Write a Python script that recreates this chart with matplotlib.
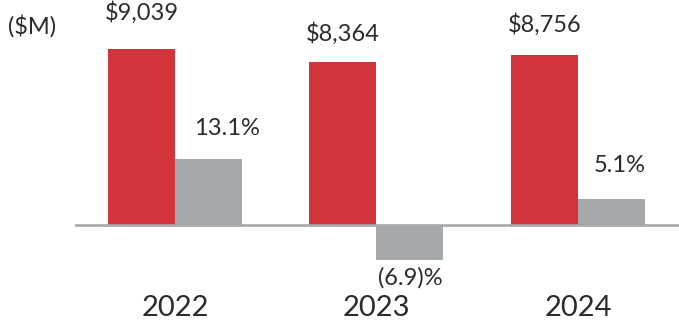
import matplotlib
matplotlib.use("Agg")
import matplotlib.pyplot as plt
import matplotlib.transforms as mtransforms

# Data
years = ["2022", "2023", "2024"]
revenue = [9039, 8364, 8756]          # $M
growth = [13.1, -6.9, 5.1]            # %
revenue_labels = ["$9,039", "$8,364", "$8,756"]
growth_labels = ["13.1%", "(6.9)%", "5.1%"]

RED = "#D1343B"
GREY = "#A7A8AB"
TEXT = "#2B2B2B"
FONT = "Lato"

W, H, DPI = 679, 327, 100
fig = plt.figure(figsize=(W / DPI, H / DPI), dpi=DPI)
fig.patch.set_facecolor("white")

# axes span from the baseline start to the right edge, full height
ax = fig.add_axes([75 / W, 0, 604 / W, 1])
ax2 = ax.twinx()
for a in (ax, ax2):
    a.set_axis_off()

bar_w = 0.3325
x = list(range(len(years)))
ax.set_xlim(-0.496, 2.5015)
ax2.set_xlim(-0.496, 2.5015)
# both scales share the zero line at the same height
ax.set_ylim(-5239, 11556)
ax2.set_ylim(-20.2, 44.5)

red_x = [i - bar_w / 2 for i in x]
grey_x = [i + bar_w / 2 for i in x]
ax.bar(red_x, revenue, width=bar_w, color=RED, linewidth=0, zorder=2)
ax2.bar(grey_x, growth, width=bar_w, color=GREY, linewidth=0, zorder=2)
ax2.axhline(0, color=GREY, lw=1.9, zorder=3)

fs = 17
# label offsets in pixels
rev_off = [(0, 36), (0, 29), (0, 30)]
gr_off = [(19, 30), (0, -18), (8, 34)]
for xi, v, lab, off in zip(red_x, revenue, revenue_labels, rev_off):
    ax.annotate(lab, (xi, v), xytext=off, textcoords="offset pixels",
                ha="center", va="center", fontsize=fs, color=TEXT,
                family=FONT)
for xi, v, lab, off in zip(grey_x, growth, growth_labels, gr_off):
    ax2.annotate(lab, (xi, v), xytext=off, textcoords="offset pixels",
                 ha="center", va="center", fontsize=fs, color=TEXT,
                 family=FONT)

trans = mtransforms.blended_transform_factory(ax.transData, ax.transAxes)
for xi, yr in zip(x, years):
    ax.text(xi, (H - 308) / H, yr, transform=trans, ha="center",
            va="center", fontsize=21, color=TEXT, family=FONT)

fig.text(32 / W, 1 - 26 / H, "($M)", ha="center", va="center",
         fontsize=fs, color=TEXT, family=FONT)

fig.savefig("out.png", dpi=DPI)
